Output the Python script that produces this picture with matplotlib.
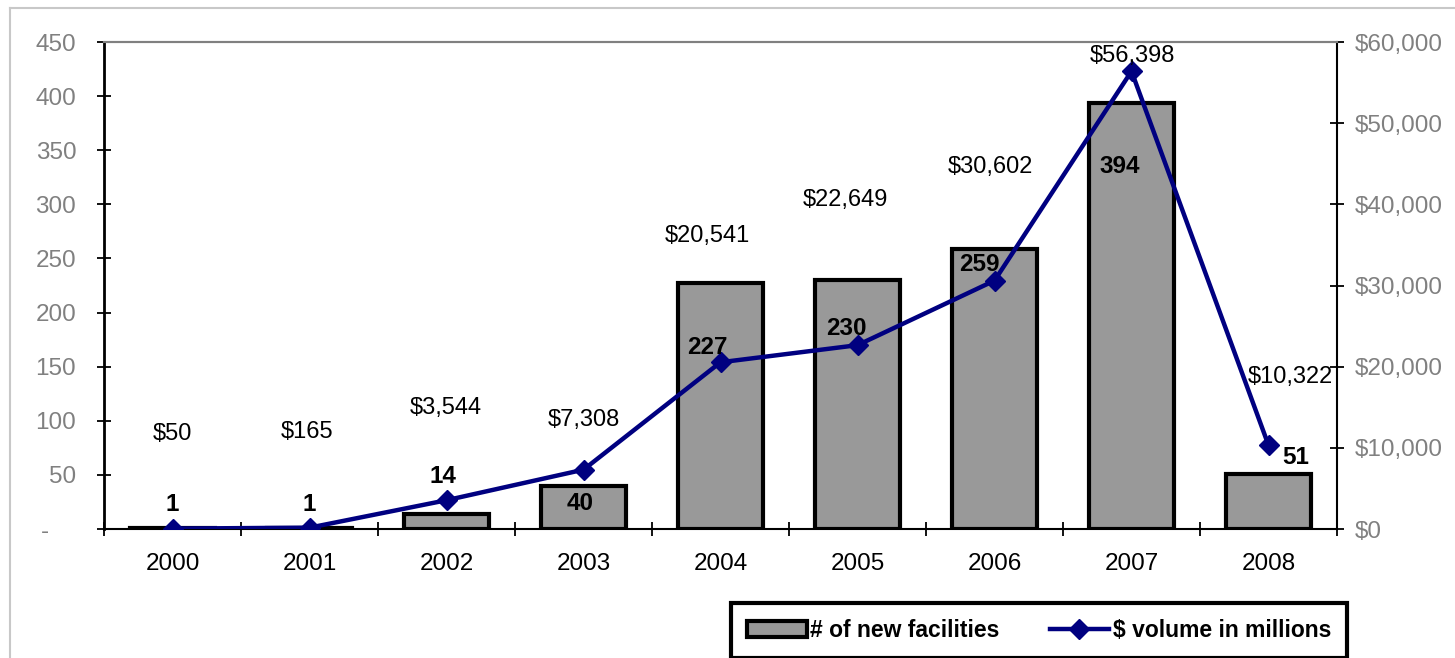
import numpy as np
import matplotlib.pyplot as plt
from matplotlib.lines import Line2D
from matplotlib.ticker import FuncFormatter

plt.rcParams['font.family'] = ['Liberation Sans', 'DejaVu Sans']

years = ['2000', '2001', '2002', '2003', '2004', '2005', '2006', '2007', '2008']
facilities = [1, 1, 14, 40, 227, 230, 259, 394, 51]
volume = [50, 165, 3544, 7308, 20541, 22649, 30602, 56398, 10322]

# where the data labels sit, in pixels from the bar top / line point
bar_lab_off = [(0, 23), (0, 23), (-4, 37), (-3, -18), (-13, -64),
               (-11, -48), (-15, -16), (-12, -64), (27, 16)]
vol_lab_off = [(0, 95), (-2, 96), (-1, 92), (0, 50), (-13, 126),
               (-12, 145), (-4, 114), (1, 15), (22, 68)]

W, H = 1455, 658
fig = plt.figure(figsize=(W / 100, H / 100), dpi=100)
ax = fig.add_axes([104 / W, 1 - 529 / H, (1337 - 104) / W, (529 - 42) / H])
ax2 = ax.twinx()

x = np.arange(len(years))
bars = ax.bar(x, facilities, width=0.62, color='#999999', edgecolor='black',
              linewidth=3, label='# of new facilities', zorder=2)
line, = ax2.plot(x, volume, color='#000080', lw=3.2, marker='D', markersize=10,
                 label='$ volume in millions', zorder=3)

ax.set_xlim(-0.5, len(years) - 0.5)
ax.set_ylim(0, 450)
ax2.set_ylim(0, 60000)

ax.set_xticks(x)
ax.set_xticklabels(years)
ax.set_xticks(np.arange(-0.5, len(years), 1), minor=True)
ax.tick_params(axis='x', which='major', length=0, pad=17, labelsize=17.5, labelcolor='black')
ax.tick_params(axis='x', which='minor', direction='inout', length=10, width=1.3)

ax.set_yticks(np.arange(0, 451, 50))
# excel accounting style: the zero dash sits left of the digits
ax.yaxis.set_major_formatter(FuncFormatter(lambda v, p: '-    ' if v == 0 else f'{v:.0f}'))
ax.tick_params(axis='y', direction='inout', length=10, width=1.3, pad=15,
               labelsize=17.5, labelcolor='#808080')

ax2.set_yticks(np.arange(0, 60001, 10000))
ax2.yaxis.set_major_formatter(FuncFormatter(lambda v, p: f'${v:,.0f}'))
ax2.tick_params(axis='y', direction='inout', length=10, width=1.3, pad=8,
                labelsize=17.5, labelcolor='#808080')

for a in (ax, ax2):
    for s in a.spines.values():
        s.set_linewidth(1.5)
    a.spines['top'].set_color('#808080')
ax.spines['right'].set_visible(False)
ax2.spines['left'].set_visible(False)
ax2.spines['bottom'].set_visible(False)
ax.spines['left'].set_linewidth(2)

for i, v in enumerate(facilities):
    ax2.annotate(str(v), xy=(x[i], v * 60000 / 450), xytext=bar_lab_off[i],
                 textcoords='offset pixels', ha='center', va='center',
                 fontsize=17.5, fontweight='bold', zorder=5)

for i, v in enumerate(volume):
    ax2.annotate(f'${v:,}', xy=(x[i], v), xytext=vol_lab_off[i],
                 textcoords='offset pixels', ha='center', va='center',
                 fontsize=17, zorder=5)

leg = fig.legend([bars, line], ['# of new facilities', '$ volume in millions'],
                 loc='upper center', bbox_to_anchor=(731 / W, 0, 616 / W, 1 - 603 / H),
                 mode='expand', ncol=2, borderaxespad=0, borderpad=0.7,
                 handlelength=2.6, handletextpad=0.15, columnspacing=1.0,
                 fancybox=False, edgecolor='black', framealpha=1,
                 prop={'weight': 'bold', 'size': 16.5})
leg.get_frame().set_linewidth(3)

# light frame round the chart area
fig.add_artist(Line2D([10 / W, 10 / W], [0, 1 - 8 / H], color='#c8c8c8', lw=1.5,
                      transform=fig.transFigure))
fig.add_artist(Line2D([10 / W, 1], [1 - 8 / H, 1 - 8 / H], color='#c8c8c8', lw=1.5,
                      transform=fig.transFigure))

fig.savefig('out.png', dpi=100)
